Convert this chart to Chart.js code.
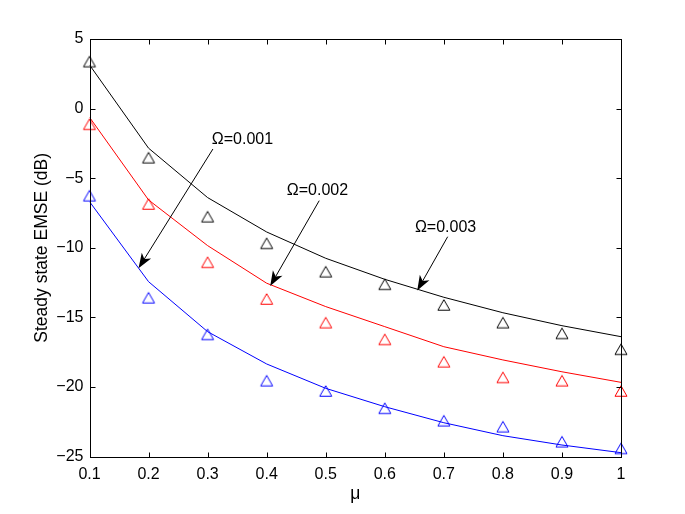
<!DOCTYPE html>
<html><head><meta charset="utf-8">
<script src="https://cdn.jsdelivr.net/npm/chart.js@4.4.0/dist/chart.umd.min.js"></script>
<style>html,body{margin:0;padding:0;background:#fff;}</style>
</head><body>
<canvas id="c" width="685" height="514"></canvas>
<script>
// ---- data ----
const mu = [0.1, 0.2, 0.3, 0.4, 0.5, 0.6, 0.7, 0.8, 0.9, 1.0];
const theory001 = [-6.68, -12.43, -16.02, -18.34, -20.09, -21.41, -22.56, -23.49, -24.16, -24.71];
const sim001    = [-6.25, -13.58, -16.21, -19.54, -20.28, -21.52, -22.41, -22.84, -23.92, -24.40];
const theory002 = [-0.62, -6.56, -9.84, -12.54, -14.22, -15.66, -17.10, -18.05, -18.90, -19.66];
const sim002    = [-1.12, -6.85, -11.03, -13.67, -15.37, -16.57, -18.18, -19.30, -19.54, -20.28];
const theory003 = [3.14, -2.84, -6.39, -8.86, -10.75, -12.26, -13.55, -14.66, -15.59, -16.38];
const sim003    = [3.38, -3.52, -7.76, -9.67, -11.71, -12.61, -14.10, -15.37, -16.14, -17.28];
const xTicks = [0.1, 0.2, 0.3, 0.4, 0.5, 0.6, 0.7, 0.8, 0.9, 1.0];
const yTicks = [5, 0, -5, -10, -15, -20, -25];
const xTitle = 'μ';
const yTitle = 'Steady state EMSE (dB)';
const annoLabels = ['Ω=0.001', 'Ω=0.002', 'Ω=0.003'];
// annotation anchors in data units (x = μ, y = dB)
const annoTextAt = [[0.307, -2.2], [0.434, -5.91], [0.651, -8.55]];
const annoFrom   = [[0.309, -2.9], [0.489, -6.61], [0.7065, -9.2]];
const annoTo     = [[0.183, -11.47], [0.406, -12.74], [0.655, -13.07]];

const FONT = '"Liberation Sans", Arial, Helvetica, sans-serif';

function triImg(color) {
  const c = document.createElement('canvas');
  c.width = 16; c.height = 16;
  const g = c.getContext('2d');
  g.strokeStyle = color; g.lineWidth = 1;
  g.beginPath();
  g.moveTo(8, 2.75); g.lineTo(14, 13.25); g.lineTo(2, 13.25); g.closePath();
  g.stroke();
  return c;
}
const pts = arr => mu.map((x, i) => ({x: x, y: arr[i]}));
function lineDs(arr, color) {
  return {data: pts(arr), showLine: true, borderColor: color, borderWidth: 1,
    pointRadius: 0, pointHoverRadius: 0, fill: false, tension: 0};
}
function simDs(arr, color) {
  return {data: pts(arr), showLine: false, borderColor: color, backgroundColor: 'transparent',
    pointStyle: triImg(color), pointRadius: 7, pointHoverRadius: 7, clip: false};
}

const frame = {
  id: 'frame',
  afterDatasetsDraw(chart) {
    const {ctx, chartArea: a, scales: {x, y}} = chart;
    ctx.save();
    ctx.strokeStyle = '#000'; ctx.lineWidth = 1;
    const L = Math.round(a.left) + 0.5, R = Math.round(a.right) + 0.5;
    const T = Math.round(a.top) + 0.5, B = Math.round(a.bottom) + 0.5;
    ctx.strokeRect(L, T, R - L, B - T);
    const tl = 5;
    ctx.beginPath();
    xTicks.forEach(v => {
      const px = Math.round(x.getPixelForValue(v)) + 0.5;
      ctx.moveTo(px, B); ctx.lineTo(px, B - tl);
      ctx.moveTo(px, T); ctx.lineTo(px, T + tl);
    });
    yTicks.forEach(v => {
      const py = Math.round(y.getPixelForValue(v)) + 0.5;
      ctx.moveTo(L, py); ctx.lineTo(L + tl, py);
      ctx.moveTo(R, py); ctx.lineTo(R - tl, py);
    });
    ctx.stroke();
    // annotations
    ctx.fillStyle = '#000';
    ctx.font = '16px ' + FONT;
    ctx.textAlign = 'left'; ctx.textBaseline = 'middle';
    annoLabels.forEach((lab, i) => {
      const tx = x.getPixelForValue(annoTextAt[i][0]), ty = y.getPixelForValue(annoTextAt[i][1]);
      ctx.fillText(lab, tx, ty);
      const x0 = x.getPixelForValue(annoFrom[i][0]), y0 = y.getPixelForValue(annoFrom[i][1]);
      const x1 = x.getPixelForValue(annoTo[i][0]), y1 = y.getPixelForValue(annoTo[i][1]);
      const ang = Math.atan2(y1 - y0, x1 - x0);
      const hl = 15, hw = 5.5, notch = 4;
      const ux = Math.cos(ang), uy = Math.sin(ang), nx = -uy, ny = ux;
      ctx.beginPath();
      ctx.moveTo(x0, y0);
      ctx.lineTo(x1 - ux * (hl - notch), y1 - uy * (hl - notch));
      ctx.stroke();
      ctx.beginPath();
      ctx.moveTo(x1, y1);
      ctx.lineTo(x1 - ux * hl + nx * hw, y1 - uy * hl + ny * hw);
      ctx.lineTo(x1 - ux * (hl - notch), y1 - uy * (hl - notch));
      ctx.lineTo(x1 - ux * hl - nx * hw, y1 - uy * hl - ny * hw);
      ctx.closePath();
      ctx.fill();
    });
    ctx.restore();
  }
};

new Chart(document.getElementById('c'), {
  type: 'scatter',
  data: {datasets: [
    lineDs(theory003, '#000000'), simDs(sim003, '#000000'),
    lineDs(theory002, '#ff0000'), simDs(sim002, '#ff0000'),
    lineDs(theory001, '#0000ff'), simDs(sim001, '#0000ff')
  ]},
  options: {
    responsive: false, animation: false, devicePixelRatio: 1,
    layout: {padding: {left: 0, right: 64, top: 39, bottom: 0}},
    plugins: {legend: {display: false}, tooltip: {enabled: false}},
    scales: {
      x: {
        type: 'linear', min: 0.1, max: 1,
        afterBuildTicks: s => { s.ticks = xTicks.map(v => ({value: v})); },
        afterFit: s => { s.height = 57.3; },
        grid: {display: false, drawTicks: false}, border: {display: false},
        ticks: {color: '#000', padding: 8, maxRotation: 0, autoSkip: false,
          font: {family: FONT, size: 16},
          callback: v => (Math.abs(v - 1) < 1e-9 ? '1' : v.toFixed(1))},
        title: {display: true, text: xTitle, color: '#000', font: {family: FONT, size: 17.5},
          padding: {top: 0, bottom: 9.5}}
      },
      y: {
        type: 'linear', min: -25, max: 5,
        afterBuildTicks: s => { s.ticks = yTicks.map(v => ({value: v})); },
        afterFit: s => { s.width = 89.5; },
        grid: {display: false, drawTicks: false}, border: {display: false},
        ticks: {color: '#000', padding: 6, autoSkip: false,
          font: {family: FONT, size: 16},
          callback: v => String(v).replace('-', '\u2212')},
        title: {display: true, text: yTitle, color: '#000', font: {family: FONT, size: 17.5},
          padding: {top: 32, bottom: 0}}
      }
    }
  },
  plugins: [frame]
});
</script>
</body></html>
